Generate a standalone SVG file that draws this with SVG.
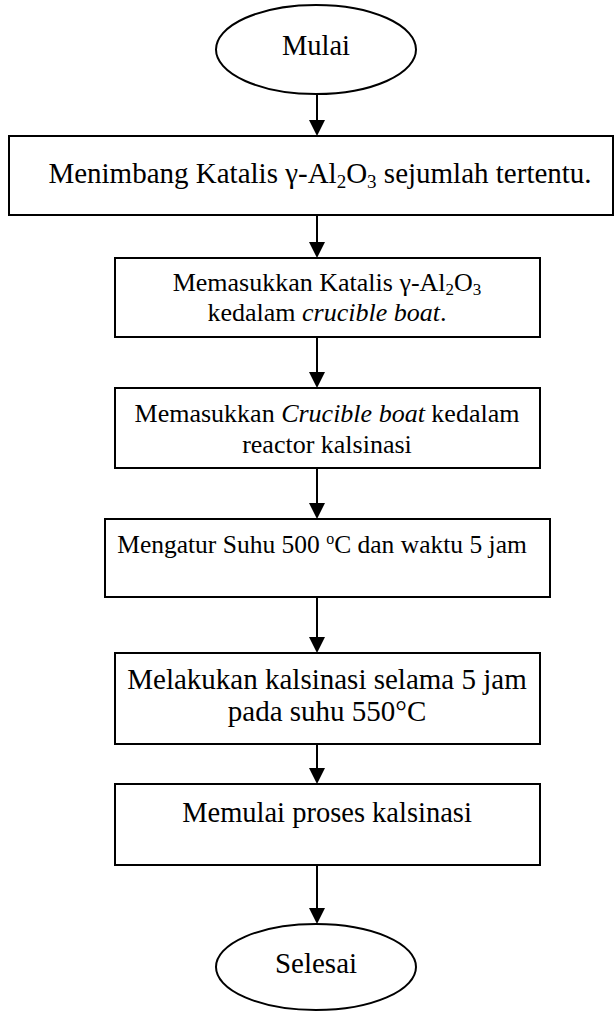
<svg xmlns="http://www.w3.org/2000/svg" width="616" height="1012" viewBox="0 0 616 1012">
<defs>
<style>
.sh{fill:#fff;stroke:#000;stroke-width:2}
.t{font-family:"Liberation Serif","Times New Roman",serif;fill:#000;text-anchor:middle}
.c{stroke:#000;stroke-width:2;fill:none}
.ah{fill:#000}
</style>
</defs>
<rect width="616" height="1012" fill="#fff"/>
<g id="connectors">
<line class="c" x1="317" y1="94" x2="317" y2="122"/>
<path class="ah" d="M309,120 L325,120 L317,136 Z"/>
<line class="c" x1="317" y1="215" x2="317" y2="244"/>
<path class="ah" d="M309,242 L325,242 L317,258 Z"/>
<line class="c" x1="317" y1="337" x2="317" y2="374"/>
<path class="ah" d="M309,372 L325,372 L317,388 Z"/>
<line class="c" x1="317" y1="468" x2="317" y2="505"/>
<path class="ah" d="M309,503 L325,503 L317,519 Z"/>
<line class="c" x1="317" y1="597" x2="317" y2="639"/>
<path class="ah" d="M309,637 L325,637 L317,653 Z"/>
<line class="c" x1="317" y1="744" x2="317" y2="770"/>
<path class="ah" d="M309,768 L325,768 L317,784 Z"/>
<line class="c" x1="317" y1="865" x2="317" y2="910"/>
<path class="ah" d="M309,908 L325,908 L317,924 Z"/>
</g>
<g id="start">
<ellipse class="sh" cx="316" cy="49.5" rx="100" ry="44.5"/>
<text class="t" x="316" y="55" font-size="28.5">Mulai</text>
</g>
<g id="step1">
<rect class="sh" x="9" y="136" width="604" height="79"/>
<text class="t" x="320" y="183" font-size="29">Menimbang Katalis γ-Al<tspan font-size="19" dy="5">2</tspan><tspan dy="-5">O</tspan><tspan font-size="19" dy="5">3</tspan><tspan dy="-5"> sejumlah tertentu.</tspan></text>
</g>
<g id="step2">
<rect class="sh" x="115" y="258" width="425" height="79"/>
<text class="t" x="327" y="291" font-size="26">Memasukkan Katalis γ-Al<tspan font-size="17" dy="4">2</tspan><tspan dy="-4">O</tspan><tspan font-size="17" dy="4">3</tspan></text>
<text class="t" x="327" y="321" font-size="26">kedalam <tspan font-style="italic">crucible boat</tspan>.</text>
</g>
<g id="step3">
<rect class="sh" x="115" y="388" width="425" height="80"/>
<text class="t" x="327" y="422" font-size="26">Memasukkan <tspan font-style="italic">Crucible boat</tspan> kedalam</text>
<text class="t" x="327" y="453" font-size="26">reactor kalsinasi</text>
</g>
<g id="step4">
<rect class="sh" x="105" y="519" width="445" height="78"/>
<text class="t" x="322" y="553" font-size="25.5">Mengatur Suhu 500 <tspan font-size="16" dy="-9">o</tspan><tspan dy="9">C dan waktu 5 jam</tspan></text>
</g>
<g id="step5">
<rect class="sh" x="115" y="653" width="425" height="91"/>
<text class="t" x="327" y="689" font-size="29">Melakukan kalsinasi selama 5 jam</text>
<text class="t" x="327" y="721" font-size="29">pada suhu 550°C</text>
</g>
<g id="step6">
<rect class="sh" x="115" y="784" width="425" height="81"/>
<text class="t" x="327" y="822" font-size="28.5">Memulai proses kalsinasi</text>
</g>
<g id="end">
<ellipse class="sh" cx="316" cy="967" rx="100" ry="43"/>
<text class="t" x="316" y="973" font-size="29">Selesai</text>
</g>
</svg>
